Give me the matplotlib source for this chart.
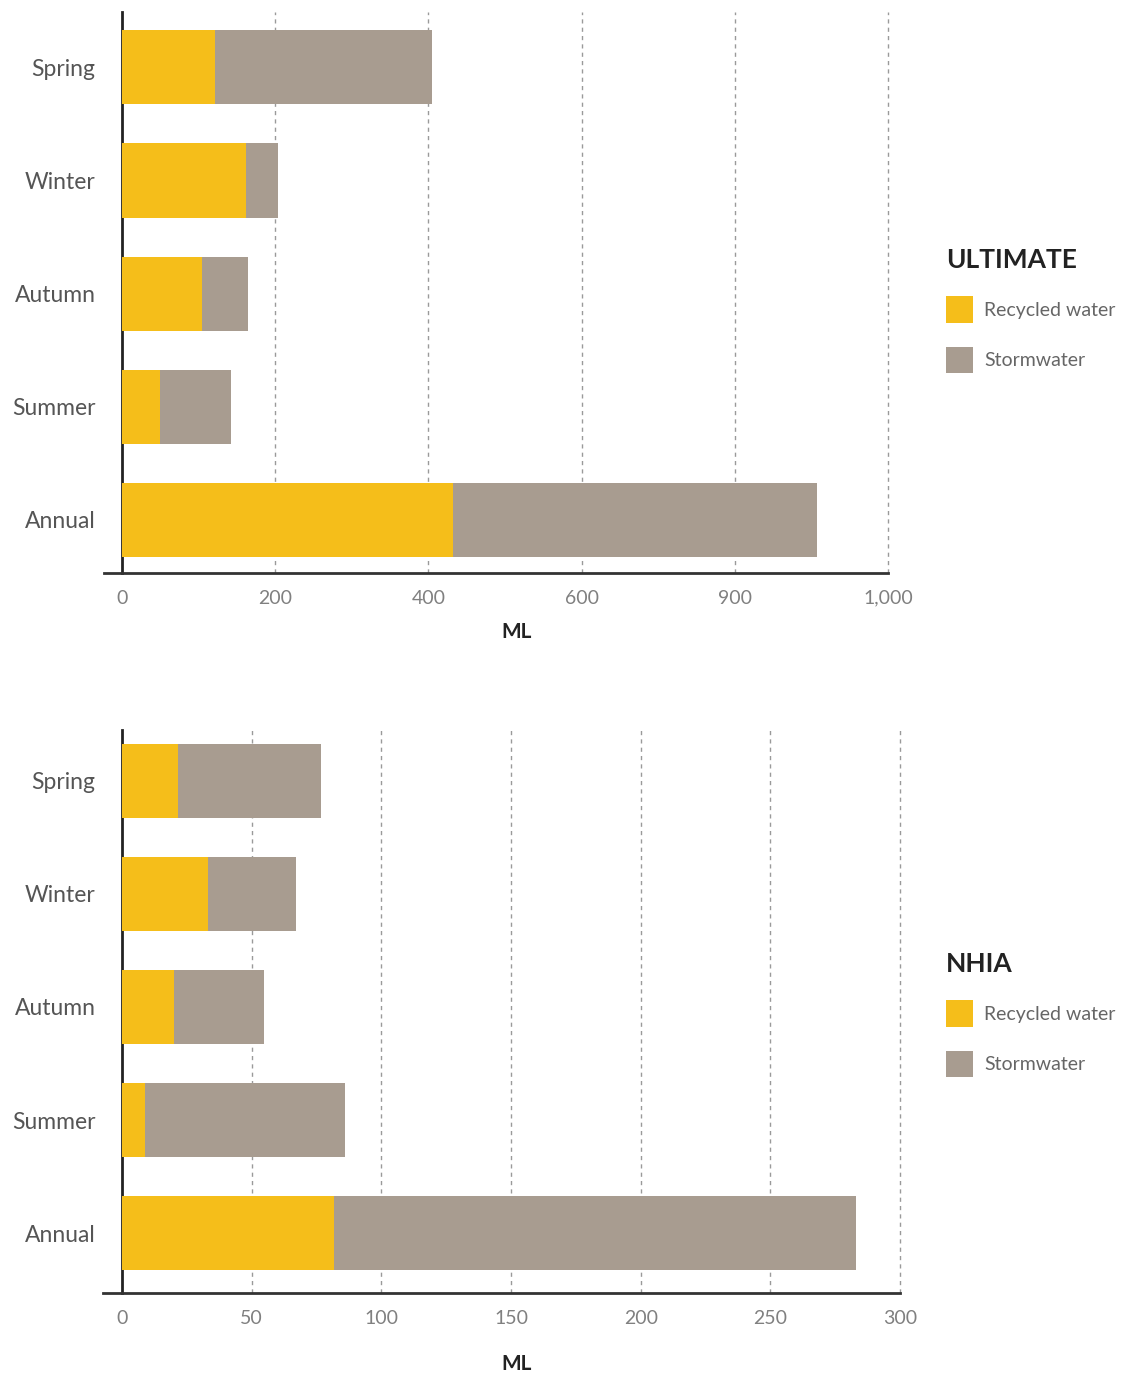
import matplotlib
matplotlib.use("Agg")
import matplotlib.pyplot as plt
from matplotlib.patches import Patch

plt.rcParams['font.family'] = ['Lato', 'DejaVu Sans']

categories = ["Spring", "Winter", "Autumn", "Summer", "Annual"]

# ULTIMATE (ML)
ult_recycled = [121, 162, 104, 50, 432]
ult_storm = [284, 42, 60, 92, 475]
ult_ticks = [0, 200, 400, 600, 800, 1000]
ult_ticklabels = ["0", "200", "400", "600", "900", "1,000"]

# NHIA (ML)
nhia_recycled = [21.6, 33.2, 20.0, 8.9, 81.7]
nhia_storm = [55.1, 33.8, 34.7, 77.1, 201.3]
nhia_ticks = [0, 50, 100, 150, 200, 250, 300]
nhia_ticklabels = ["0", "50", "100", "150", "200", "250", "300"]

YELLOW = "#F5BE1A"
GRAY = "#A89C90"
W, H = 1126, 1376

fig = plt.figure(figsize=(W / 100, H / 100), dpi=100)


def panel(rect, recycled, storm, ticks, ticklabels, xmax, title, ylim, legend_xy, ml_y):
    ax = fig.add_axes(rect)
    y = list(range(len(categories)))
    ax.barh(y, recycled, height=0.655, color=YELLOW, zorder=3)
    ax.barh(y, storm, left=recycled, height=0.655, color=GRAY, zorder=3)
    ax.set_ylim(*ylim)
    ax.set_xlim(0, xmax)
    ax.set_yticks(y)
    ax.set_yticklabels(categories, fontsize=16.5, color="#555555",
                       va="center_baseline")
    ax.set_xticks(ticks)
    ax.set_xticklabels(ticklabels, fontsize=14, color="#808080")
    ax.tick_params(axis="y", length=0, pad=19)
    ax.tick_params(axis="x", length=0, pad=12)
    for t in ticks[1:]:
        ax.axvline(t, color="#9a9a9a", lw=1.0, ls=(0, (3, 3)), zorder=1,
                   clip_on=False)
    for s in ["top", "right", "bottom"]:
        ax.spines[s].set_visible(False)
    ax.spines["left"].set_color("#222222")
    ax.spines["left"].set_linewidth(2)
    ax.plot([-0.024, 1.0], [0, 0], transform=ax.transAxes, color="#333333",
            lw=2, clip_on=False, zorder=4)
    fig.text(517 / W, ml_y, "ML", fontsize=15, fontweight="bold",
             color="#222222", ha="center", va="center")
    handles = [Patch(facecolor=YELLOW, edgecolor="none", label="Recycled water"),
               Patch(facecolor=GRAY, edgecolor="none", label="Stormwater")]
    leg = fig.legend(handles=handles, title=title, loc="upper left",
                     bbox_to_anchor=legend_xy, frameon=False, fontsize=14,
                     handlelength=1.4, handleheight=1.7, handletextpad=0.55,
                     labelspacing=1.25, borderpad=0, borderaxespad=0,
                     alignment="left", labelcolor="#666666")
    leg.get_title().set_fontsize(19)
    leg.get_title().set_fontweight("bold")
    leg.get_title().set_color("#222222")
    return ax


panel([122 / W, 1 - 573 / H, (888 - 122) / W, (573 - 12) / H],
      ult_recycled, ult_storm, ult_ticks, ult_ticklabels, 1000, "ULTIMATE",
      (4.47, -0.49), (946 / W, 1 - 248 / H), 1 - 632 / H)

panel([122 / W, 1 - 1293 / H, (900 - 122) / W, (1293 - 730) / H],
      nhia_recycled, nhia_storm, nhia_ticks, nhia_ticklabels, 300, "NHIA",
      (4.53, -0.45), (946 / W, 1 - 952 / H), 1 - 1364 / H)

fig.savefig("out.png", dpi=100)
